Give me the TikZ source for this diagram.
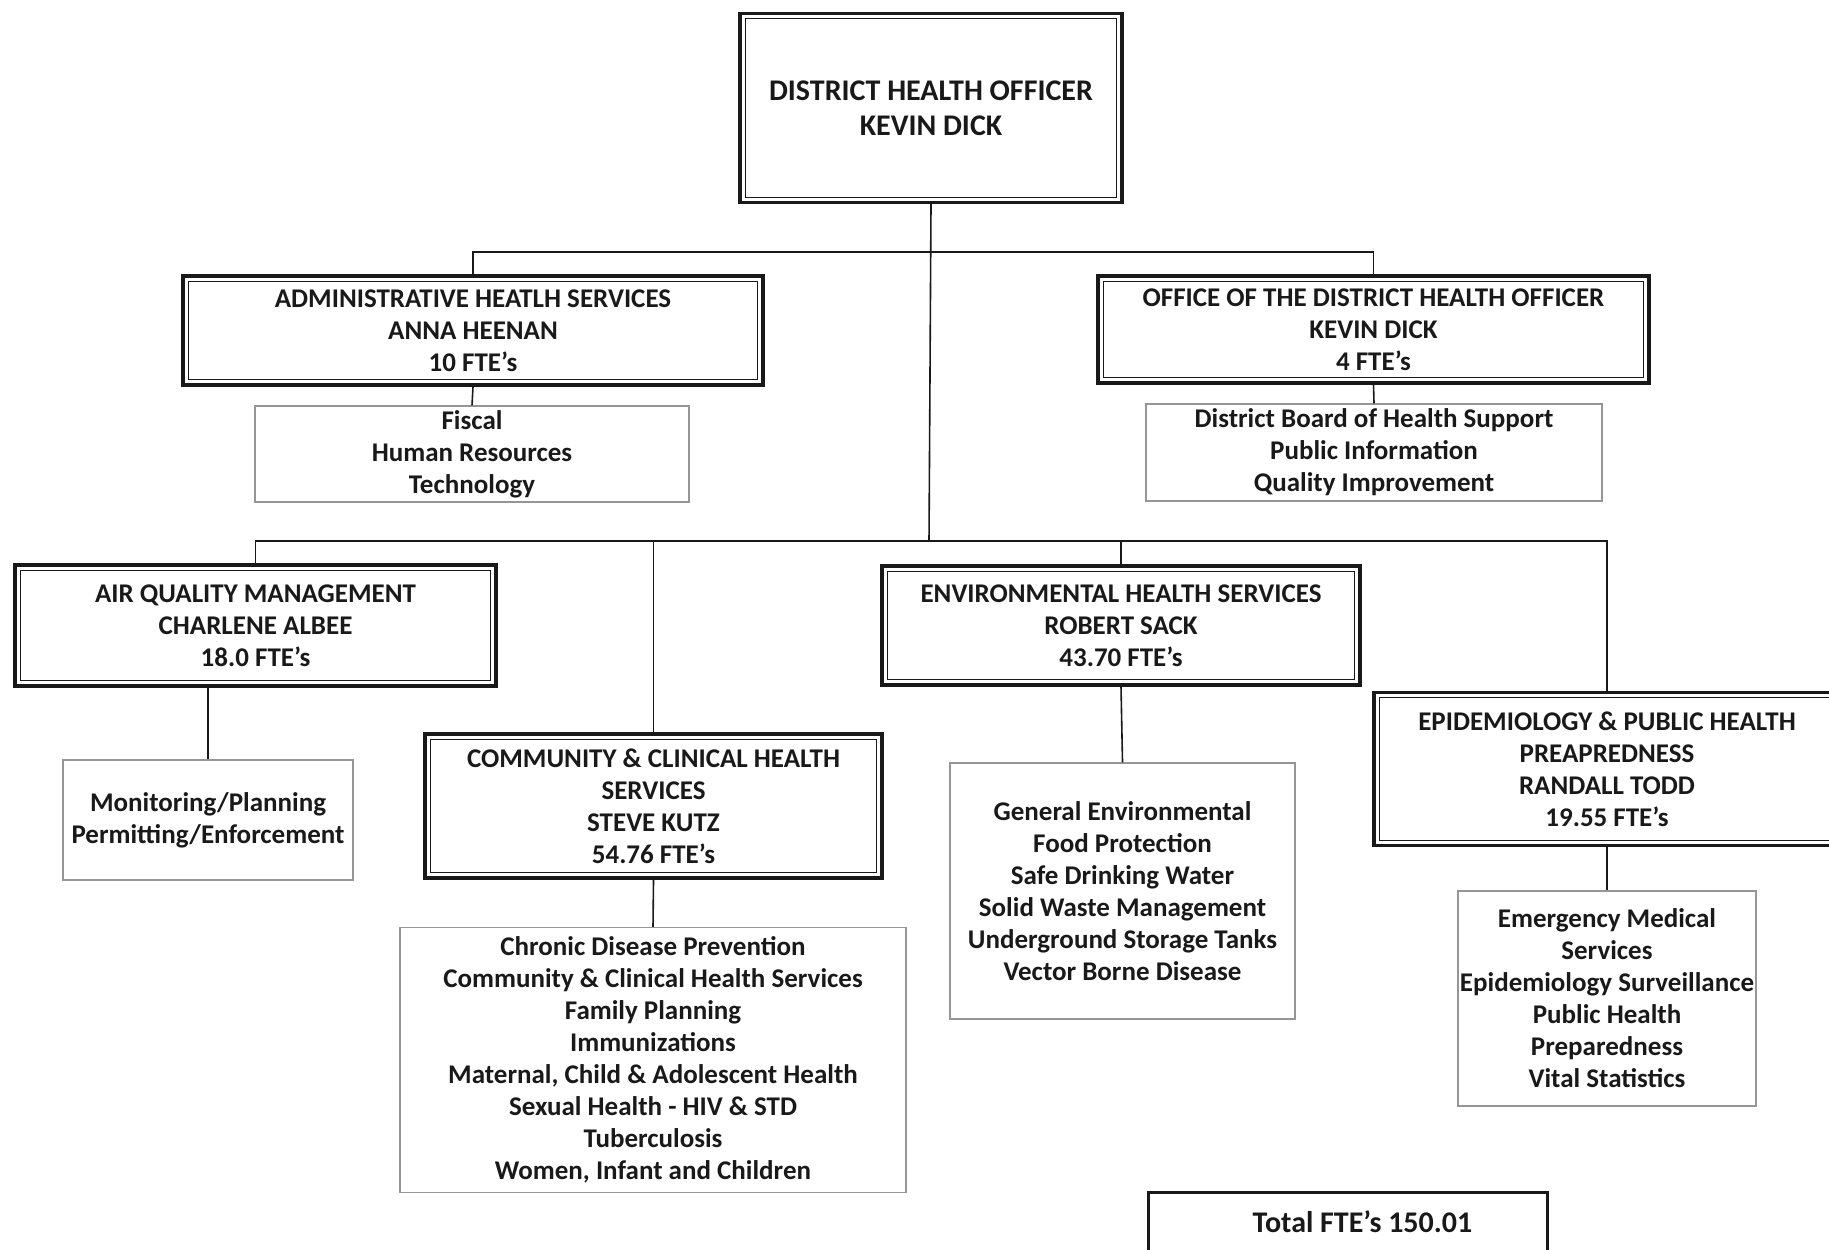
\documentclass[tikz,border=0pt]{standalone}
\usepackage{fontspec}
\setmainfont{Carlito}
\usepackage{tikz}
\usetikzlibrary{calc,positioning}
\definecolor{inkline}{RGB}{25,25,25}
\definecolor{subgray}{RGB}{150,150,150}

\begin{document}
\begin{tikzpicture}[x=0.5pt, y=-0.5pt,
  every node/.style={font=\bfseries\fontsize{13.5}{16}\selectfont, text=inkline, align=center, inner sep=0pt},
  head/.style={draw=inkline, line width=1.7pt,
    path picture={\draw[inkline, line width=0.6pt]
      ([shift={(2.6pt,-2.6pt)}]path picture bounding box.north west) rectangle
      ([shift={(-2.6pt,2.6pt)}]path picture bounding box.south east);}},
  duty/.style={draw=subgray, line width=0.6pt},
  link/.style={draw=inkline, line width=0.8pt},
  big/.style={font=\bfseries\fontsize{15}{17.5}\selectfont},
]
  \useasboundingbox (0,0) rectangle (1829,1249);
  \clip (0,0) rectangle (1829,1249);

  % Top level
  \node[head, big, minimum width=191pt, minimum height=94.5pt] (dho) at (931,108)
    {DISTRICT HEALTH OFFICER\\KEVIN DICK};

  % Second row
  \node[head, minimum width=290pt, minimum height=54.5pt] (adm) at (473,330.5)
    {ADMINISTRATIVE HEATLH SERVICES\\ANNA HEENAN\\10 FTE's};
  \node[duty, minimum width=217pt, minimum height=48pt] (admsub) at (472,454)
    {Fiscal\\Human Resources\\Technology};
  \node[head, minimum width=275.5pt, minimum height=53.5pt] (ofc) at (1373.5,329.5)
    {OFFICE OF THE DISTRICT HEALTH OFFICER\\KEVIN DICK\\4 FTE's};
  \node[duty, minimum width=228pt, minimum height=48.5pt] (ofcsub) at (1374,452.5)
    {District Board of Health Support\\Public Information\\Quality Improvement};

  % Divisions
  \node[head, minimum width=240.5pt, minimum height=60.5pt] (air) at (255.5,625.5)
    {AIR QUALITY MANAGEMENT\\CHARLENE ALBEE\\18.0 FTE's};
  \node[duty, minimum width=145pt, minimum height=60pt] (airsub) at (208,820)
    {Monitoring/Planning\\Permitting/Enforcement};
  \node[head, minimum width=228.5pt, minimum height=72pt] (com) at (653.5,806)
    {COMMUNITY \& CLINICAL HEALTH\\SERVICES\\STEVE KUTZ\\54.76 FTE's};
  \node[duty, minimum width=253pt, minimum height=132.5pt] (comsub) at (653,1060)
    {Chronic Disease Prevention\\Community \& Clinical Health Services\\Family Planning\\Immunizations\\
     Maternal, Child \& Adolescent Health\\Sexual Health - HIV \& STD\\Tuberculosis\\Women, Infant and Children};
  \node[head, minimum width=239pt, minimum height=59.5pt] (env) at (1121,625.5)
    {ENVIRONMENTAL HEALTH SERVICES\\ROBERT SACK\\43.70 FTE's};
  \node[duty, minimum width=172.5pt, minimum height=128pt] (envsub) at (1122.5,891)
    {General Environmental\\Food Protection\\Safe Drinking Water\\Solid Waste Management\\
     Underground Storage Tanks\\Vector Borne Disease};
  \node[head, minimum width=233pt, minimum height=76.5pt] (epi) at (1607,769)
    {EPIDEMIOLOGY \& PUBLIC HEALTH\\PREAPREDNESS\\RANDALL TODD\\19.55 FTE's};
  \node[duty, minimum width=149pt, minimum height=107.5pt] (episub) at (1607,998.5)
    {Emergency Medical\\Services\\Epidemiology Surveillance\\Public Health\\Preparedness\\Vital Statistics};

  % Total (box runs off the page)
  \node[big, draw=inkline, line width=1.5pt, minimum width=199.5pt,
        text height=20pt, text depth=20pt, anchor=base] (tot) at (1347.5,1232)
    {\hspace*{15pt}Total FTE's 150.01};

  % Connectors
  \coordinate (topbar) at (929,252);
  \coordinate (midbar) at (929,541);
  \draw[link] (dho.south) -- (midbar);
  \draw[link] (adm.north) |- (topbar) -| (ofc.north);
  \draw[link] (air.north) |- (midbar) -| (epi.north);
  \draw[link] (com.north) -- (com.north |- midbar);
  \draw[link] (env.north) -- (env.north |- midbar);
  \draw[link] (adm.south) -- (admsub.north);
  \draw[link] (ofc.south) -- (ofcsub.north);
  \draw[link] (airsub.north |- air.south) -- (airsub.north);
  \draw[link] (com.south) -- (comsub.north);
  \draw[link] (env.south) -- (envsub.north);
  \draw[link] (epi.south) -- (episub.north);
\end{tikzpicture}
\end{document}
